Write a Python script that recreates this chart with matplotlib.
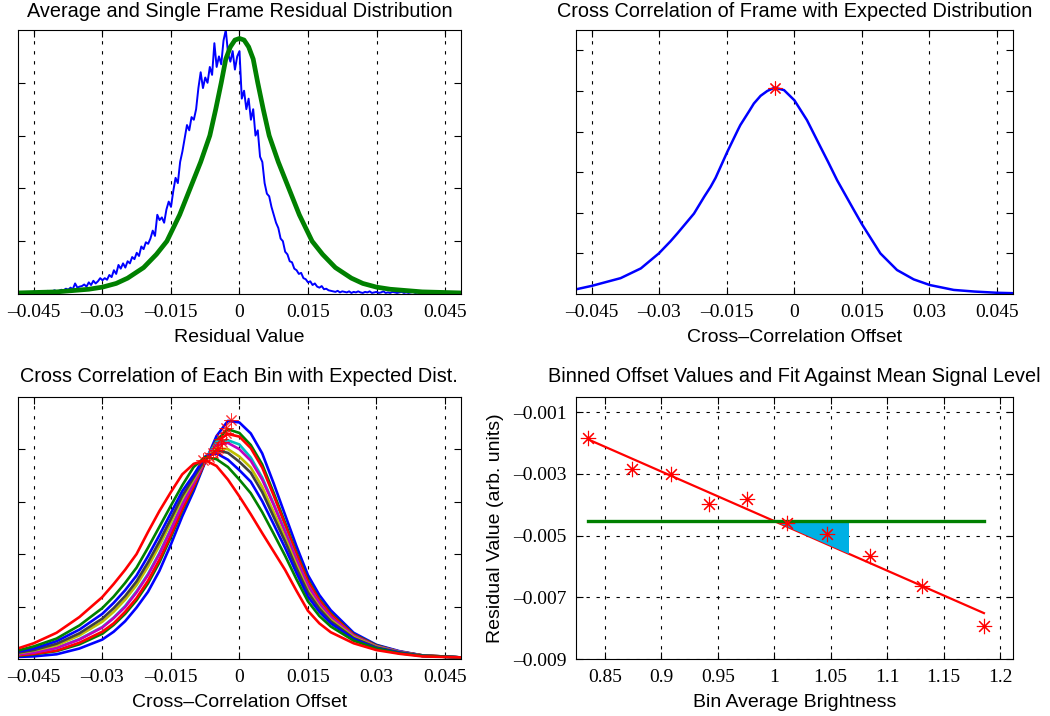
import numpy as np
import matplotlib.pyplot as plt

plt.rcParams['font.family'] = ['Liberation Sans', 'DejaVu Sans']
plt.rcParams['axes.linewidth'] = 0.8

SERIF = ['Liberation Serif', 'DejaVu Serif']
DASH = (0, (3, 6))

# matlab default line colours
BLUE = (0, 0, 1)
GREEN = (0, 0.5, 0)
RED = (1, 0, 0)
CYAN = (0, 0.75, 0.75)
MAGENTA = (0.75, 0, 0.75)
OLIVE = (0.75, 0.75, 0)
DARK = (0.25, 0.25, 0.25)

offset_ticks = [-0.045, -0.03, -0.015, 0, 0.015, 0.03, 0.045]
offset_labels = ['\u20130.045', '\u20130.03', '\u20130.015', '0', '0.015', '0.03', '0.045']

# --- top left: single frame histogram (noisy) and expected distribution
single_frame = [
    0.02, 0.03, 0.02, 0.04, 0.03, 0.02, 0.05, 0.03, 0.04, 0.03, 0.05, 0.04, 0.06, 0.04, 0.05, 0.07, 0.05,
    0.06, 0.08, 0.07, 0.10, 0.08, 0.12, 0.09, 0.20, 0.12, 0.14,
    0.15, 0.18, 0.14, 0.22, 0.17, 0.25, 0.20, 0.24, 0.30, 0.26,
    0.30, 0.27, 0.36, 0.32, 0.45, 0.38, 0.55, 0.48, 0.58, 0.50,
    0.62, 0.58, 0.70, 0.66, 0.78, 0.72, 0.90, 0.85, 0.98, 0.95,
    1.05, 1.20, 1.10, 1.50, 1.40, 1.45, 1.35, 1.60, 1.75, 1.65,
    1.95, 2.20, 2.10, 2.50, 2.70, 2.95, 3.20, 3.10, 3.35, 3.30,
    3.50, 3.90, 4.20, 3.90, 4.10, 4.00, 4.30, 4.15, 4.75, 4.30,
    4.50, 4.35, 4.80, 5.00, 4.55, 4.40, 4.60, 4.25, 4.50, 4.60,
    3.70, 3.85, 3.50, 3.70, 3.30, 3.50, 3.00, 3.10, 2.60, 2.50,
    2.10, 1.90, 1.85, 1.65, 1.50, 1.35, 1.25, 1.05, 1.00, 0.80,
    0.75, 0.62, 0.60, 0.48, 0.45, 0.38, 0.40, 0.30, 0.28, 0.22,
    0.24, 0.17, 0.20, 0.14, 0.12, 0.15, 0.09, 0.10, 0.07, 0.06,
    0.05, 0.04, 0.06, 0.03, 0.05, 0.04, 0.03, 0.05, 0.02, 0.04,
    0.03, 0.05, 0.03, 0.02, 0.04, 0.03, 0.05, 0.02, 0.03, 0.04,
    0.02, 0.03, 0.05, 0.02, 0.03, 0.02, 0.04, 0.03, 0.02, 0.03,
    0.04, 0.02, 0.03, 0.02, 0.03, 0.04, 0.02, 0.03, 0.02, 0.03,
    0.02, 0.04, 0.02, 0.03, 0.02, 0.02, 0.03, 0.02, 0.03, 0.02,
    0.02, 0.03, 0.02, 0.02, 0.03, 0.02,
]
frame_x = np.linspace(-0.048, 0.048, len(single_frame))

expected_x = [-0.0485, -0.04, -0.033, -0.030, -0.027, -0.0245, -0.021, -0.0182, -0.0159, -0.0131,
              -0.0108, -0.0085, -0.0065, -0.0052, -0.004, -0.003, -0.002, -0.001, 0.0,
              0.001, 0.002, 0.003, 0.004, 0.0052, 0.0065, 0.0085, 0.0108, 0.0131, 0.0159,
              0.0182, 0.021, 0.0245, 0.027, 0.030, 0.033, 0.04, 0.0485]
expected_y = [0.02, 0.04, 0.09, 0.13, 0.2, 0.3, 0.5, 0.75, 1.0, 1.5,
              2.0, 2.5, 3.0, 3.5, 4.0, 4.45, 4.68, 4.81, 4.84,
              4.81, 4.68, 4.45, 4.0, 3.5, 3.0, 2.5, 2.0, 1.5, 1.0,
              0.75, 0.5, 0.3, 0.2, 0.13, 0.09, 0.04, 0.02]

# --- top right: cross correlation of the frame
xcorr_x = [-0.0485, -0.045, -0.0386, -0.0341, -0.0301, -0.0275, -0.026, -0.0223, -0.02, -0.0186,
           -0.0175, -0.0149, -0.0125, -0.012, -0.01, -0.009, -0.0075, -0.006, -0.0044, -0.0023,
           0.0, 0.0028, 0.0058, 0.0075, 0.0095, 0.0132, 0.015, 0.0175, 0.0191, 0.0228,
           0.0265, 0.0301, 0.0354, 0.04, 0.045, 0.0485]
xcorr_y = [0.115, 0.2, 0.39, 0.63, 1.0, 1.3, 1.49, 1.98, 2.4, 2.64,
           2.86, 3.5, 4.05, 4.16, 4.51, 4.69, 4.88, 5.0, 5.08, 5.02,
           4.77, 4.28, 3.62, 3.25, 2.8, 2.07, 1.72, 1.28, 1.0, 0.59,
           0.36, 0.22, 0.1, 0.06, 0.03, 0.02]
xcorr_peak_x = -0.0044
xcorr_peak_y = 5.08

# --- bottom left: cross correlation per brightness bin
bin_x = [-0.0485, -0.045, -0.04, -0.035, -0.03, -0.0275, -0.025, -0.0225, -0.02, -0.0175,
         -0.015, -0.0125, -0.01, -0.0075, -0.005, -0.0025, 0.0, 0.0025, 0.005, 0.0075,
         0.01, 0.0125, 0.015, 0.0175, 0.02, 0.025, 0.03, 0.035, 0.04, 0.0485]
bin_curve_1 = [0.04, 0.05, 0.09, 0.20, 0.37, 0.52, 0.72, 0.98, 1.28, 1.68, 2.18, 2.72, 3.20, 3.75, 4.25,
               4.54, 4.51, 4.30, 3.92, 3.35, 2.75, 2.15, 1.60, 1.22, 0.93, 0.50, 0.27, 0.15, 0.07, 0.03]
bin_curve_2 = [0.06, 0.09, 0.15, 0.28, 0.48, 0.65, 0.86, 1.12, 1.44, 1.84, 2.32, 2.83, 3.27, 3.76, 4.17,
               4.38, 4.31, 4.08, 3.71, 3.17, 2.60, 2.03, 1.51, 1.14, 0.87, 0.47, 0.26, 0.14, 0.07, 0.03]
bin_curve_3 = [0.07, 0.10, 0.16, 0.31, 0.52, 0.68, 0.90, 1.16, 1.49, 1.89, 2.36, 2.86, 3.29, 3.76, 4.15,
               4.29, 4.24, 4.02, 3.65, 3.12, 2.56, 2.00, 1.48, 1.12, 0.85, 0.46, 0.25, 0.14, 0.07, 0.03]
bin_curve_4 = [0.09, 0.13, 0.21, 0.38, 0.61, 0.79, 1.01, 1.29, 1.62, 2.02, 2.48, 2.96, 3.36, 3.80, 4.14,
               4.17, 4.09, 3.84, 3.46, 2.96, 2.44, 1.90, 1.40, 1.06, 0.80, 0.44, 0.24, 0.14, 0.06, 0.03]
bin_curve_5 = [0.09, 0.12, 0.21, 0.37, 0.60, 0.78, 0.99, 1.27, 1.60, 2.00, 2.46, 2.94, 3.35, 3.78, 4.08,
               4.12, 4.00, 3.78, 3.42, 2.94, 2.42, 1.89, 1.40, 1.06, 0.80, 0.44, 0.24, 0.14, 0.06, 0.03]
bin_curve_6 = [0.11, 0.16, 0.26, 0.45, 0.71, 0.90, 1.13, 1.41, 1.76, 2.16, 2.60, 3.06, 3.42, 3.80, 4.02,
               4.00, 3.86, 3.65, 3.28, 2.80, 2.31, 1.79, 1.31, 0.99, 0.75, 0.42, 0.23, 0.13, 0.06, 0.03]
bin_curve_7 = [0.12, 0.17, 0.29, 0.49, 0.77, 0.97, 1.20, 1.48, 1.84, 2.24, 2.67, 3.11, 3.46, 3.80, 3.98,
               3.93, 3.76, 3.55, 3.18, 2.71, 2.24, 1.73, 1.27, 0.96, 0.72, 0.40, 0.22, 0.13, 0.06, 0.03]
bin_curve_8 = [0.14, 0.20, 0.34, 0.56, 0.86, 1.07, 1.31, 1.59, 1.96, 2.36, 2.78, 3.20, 3.51, 3.86, 3.92,
               3.80, 3.60, 3.38, 3.01, 2.57, 2.12, 1.64, 1.19, 0.90, 0.68, 0.38, 0.21, 0.12, 0.06, 0.03]
bin_curve_9 = [0.16, 0.24, 0.39, 0.64, 0.97, 1.19, 1.45, 1.74, 2.12, 2.52, 2.92, 3.31, 3.66, 3.85, 3.81,
               3.66, 3.42, 3.16, 2.80, 2.39, 1.97, 1.52, 1.10, 0.82, 0.62, 0.35, 0.20, 0.11, 0.06, 0.03]
bin_curve_10 = [0.20, 0.30, 0.50, 0.80, 1.18, 1.43, 1.70, 2.00, 2.42, 2.82, 3.18, 3.52, 3.72, 3.79, 3.68,
                3.42, 3.10, 2.76, 2.40, 2.05, 1.70, 1.30, 0.92, 0.68, 0.51, 0.30, 0.17, 0.10, 0.05, 0.03]
bin_curves = [bin_curve_1, bin_curve_2, bin_curve_3, bin_curve_4, bin_curve_5,
              bin_curve_6, bin_curve_7, bin_curve_8, bin_curve_9, bin_curve_10]
bin_colors = [BLUE, GREEN, RED, CYAN, MAGENTA, OLIVE, DARK, BLUE, GREEN, RED]
bin_peak_height = [4.56, 4.40, 4.30, 4.20, 4.14, 4.03, 3.98, 3.93, 3.86, 3.79]

# --- bottom right: peak offset of each bin vs brightness
brightness = [0.8352, 0.8742, 0.9085, 0.9421, 0.9755, 1.011, 1.0464, 1.0848, 1.1306, 1.1858]
bin_offset = [-0.00184, -0.00285, -0.00299, -0.00397, -0.0038, -0.00459, -0.00494, -0.00567, -0.00664, -0.00792]
slope_box_right = 1.0662

bright_ticks = [0.85, 0.9, 0.95, 1.0, 1.05, 1.1, 1.15, 1.2]
bright_labels = ['0.85', '0.9', '0.95', '1', '1.05', '1.1', '1.15', '1.2']
resid_ticks = [-0.009, -0.007, -0.005, -0.003, -0.001]
resid_labels = ['\u20130.009', '\u20130.007', '\u20130.005', '\u20130.003', '\u20130.001']

ASTERISK = (8, 2, 0)
TITLE_FS = 14.3
LABEL_FS = 14
TICK_FS = 14


def style_axes(ax):
    ax.tick_params(direction='in', length=5, width=0.8, top=True, right=True, pad=7)
    for s in ax.spines.values():
        s.set_linewidth(0.8)


def offset_axis(ax):
    ax.set_xlim(-0.0485, 0.0485)
    ax.set_xticks(offset_ticks, offset_labels, fontfamily=SERIF, fontsize=TICK_FS)
    ax.grid(True, axis='x', color='black', linestyle=DASH, linewidth=0.8)
    ax.set_axisbelow(True)


fig = plt.figure(figsize=(10.5, 7.16), dpi=100)
ax_tl = fig.add_axes([0.01714, 0.5894, 0.4219, 0.3687])
ax_tr = fig.add_axes([0.5486, 0.5894, 0.4159, 0.3687])
ax_bl = fig.add_axes([0.01686, 0.0796, 0.4222, 0.3663])
ax_br = fig.add_axes([0.5486, 0.0796, 0.4159, 0.3663])

# top left
ax_tl.plot(frame_x, single_frame, color=BLUE, lw=1.4)
ax_tl.plot(expected_x, expected_y, color=GREEN, lw=3.4)
offset_axis(ax_tl)
ax_tl.set_ylim(0, 5)
ax_tl.set_yticks([1, 2, 3, 4])
ax_tl.set_yticklabels([])
ax_tl.set_title('Average and Single Frame Residual Distribution', fontsize=TITLE_FS, pad=9.5)
ax_tl.set_xlabel('Residual Value', fontsize=LABEL_FS, labelpad=6)
style_axes(ax_tl)

# top right
ax_tr.plot(xcorr_x, xcorr_y, color=BLUE, lw=1.8)
ax_tr.plot([xcorr_peak_x], [xcorr_peak_y], linestyle='none', marker=ASTERISK, ms=10,
           mec=RED, mew=0.8)
offset_axis(ax_tr)
ax_tr.set_ylim(0, 6.5)
ax_tr.set_yticks([1, 2, 3, 4, 5, 6])
ax_tr.set_yticklabels([])
ax_tr.set_title('Cross Correlation of Frame with Expected Distribution', fontsize=TITLE_FS, pad=9.5)
ax_tr.set_xlabel('Cross\u2013Correlation Offset', fontsize=LABEL_FS, labelpad=6)
style_axes(ax_tr)

# bottom left
for curve, col in zip(bin_curves, bin_colors):
    ax_bl.plot(bin_x, curve, color=col, lw=1.9)
ax_bl.plot(bin_offset, bin_peak_height, linestyle='none', marker=ASTERISK, ms=10,
           mec=RED, mew=0.7, alpha=0.8)
offset_axis(ax_bl)
ax_bl.set_ylim(0, 5)
ax_bl.set_yticks([1, 2, 3, 4])
ax_bl.set_yticklabels([])
ax_bl.set_title('Cross Correlation of Each Bin with Expected Dist.', fontsize=TITLE_FS, pad=10.5)
ax_bl.set_xlabel('Cross\u2013Correlation Offset', fontsize=LABEL_FS, labelpad=6)
style_axes(ax_bl)

# bottom right
b = np.array(brightness)
o = np.array(bin_offset)
slope, icpt = np.polyfit(b, o, 1)
ends = np.array([b[0], b[-1]])
mean_off = o.mean()
x0 = (mean_off - icpt) / slope
tri_x = [x0, slope_box_right, slope_box_right]
tri_y = [mean_off, mean_off, slope * slope_box_right + icpt]

ax_br.plot(ends, slope * ends + icpt, color=RED, lw=1.6, zorder=3)
ax_br.fill(tri_x, tri_y, color='#00b0e4', lw=0, zorder=3.5)
ax_br.plot(ends, [mean_off, mean_off], color=GREEN, lw=2.4, zorder=4)
ax_br.plot(b, o, linestyle='none', marker=ASTERISK, ms=11, mec=RED, mew=0.8, zorder=5)
ax_br.set_xlim(0.8243, 1.2113)
ax_br.set_ylim(-0.009, -0.0005)
ax_br.set_xticks(bright_ticks, bright_labels, fontfamily=SERIF, fontsize=TICK_FS)
ax_br.set_yticks(resid_ticks, resid_labels, fontfamily=SERIF, fontsize=TICK_FS)
ax_br.grid(True, color='black', linestyle=DASH, linewidth=0.8)
ax_br.set_axisbelow(True)
ax_br.set_title('Binned Offset Values and Fit Against Mean Signal Level', fontsize=TITLE_FS, pad=10.5)
ax_br.set_xlabel('Bin Average Brightness', fontsize=LABEL_FS, labelpad=6)
ax_br.set_ylabel('Residual Value (arb. units)', fontsize=LABEL_FS, labelpad=6)
style_axes(ax_br)

fig.savefig('out.png', dpi=100)
